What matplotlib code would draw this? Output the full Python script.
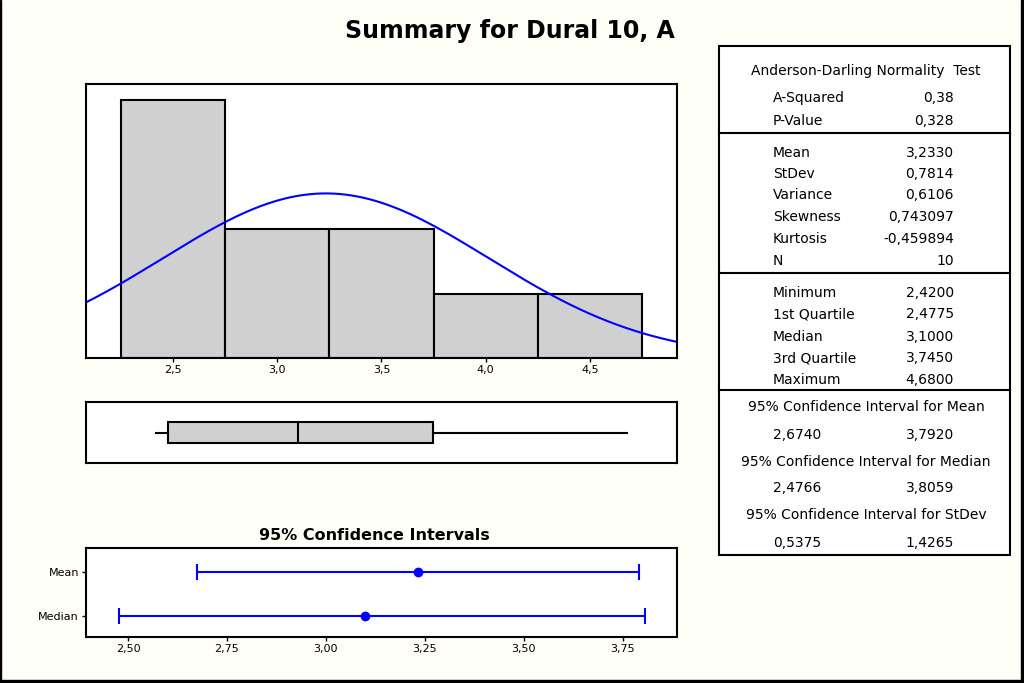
import numpy as np
import matplotlib
matplotlib.use("Agg")
import matplotlib.pyplot as plt
from matplotlib.patches import Rectangle
from matplotlib.lines import Line2D

# ---- data ----
title = "Summary for Dural 10, A"
bin_edges = [2.25, 2.75, 3.25, 3.75, 4.25, 4.75]
counts = [4, 2, 2, 1, 1]
hist_ticks = [2.5, 3.0, 3.5, 4.0, 4.5]

mean = 3.2330
stdev = 0.7814
n_obs = 10
minimum = 2.42
q1 = 2.4775
median = 3.10
q3 = 3.745
maximum = 4.68

ci_labels = ["Mean", "Median"]
ci_centers = [3.2330, 3.1000]
ci_low = [2.6740, 2.4766]
ci_high = [3.7920, 3.8059]
ci_ticks = [2.50, 2.75, 3.00, 3.25, 3.50, 3.75]

table_sections = [
    ("Anderson-Darling Normality  Test", [("A-Squared", "0,38"), ("P-Value", "0,328")]),
    (None, [("Mean", "3,2330"), ("StDev", "0,7814"), ("Variance", "0,6106"),
            ("Skewness", "0,743097"), ("Kurtosis", "-0,459894"), ("N", "10")]),
    (None, [("Minimum", "2,4200"), ("1st Quartile", "2,4775"), ("Median", "3,1000"),
            ("3rd Quartile", "3,7450"), ("Maximum", "4,6800")]),
]
ci_table = [
    ("95% Confidence Interval for Mean", "2,6740", "3,7920"),
    ("95% Confidence Interval for Median", "2,4766", "3,8059"),
    ("95% Confidence Interval for StDev", "0,5375", "1,4265"),
]

BG = "#FFFFF8"
GRAY = "#D0D0D0"
BLUE = "#0000FF"
W, H = 1024, 683

def fx(px):
    return px / W

def fy(py):
    return 1 - py / H

def comma(v, nd):
    return f"{v:.{nd}f}".replace(".", ",")

fig = plt.figure(figsize=(10.24, 6.83), dpi=100, facecolor=BG)

# outer frame lines (left thin, right & bottom thick)
fig.add_artist(Rectangle((0, 0), fx(1.2), 1, color="black", transform=fig.transFigure))
fig.add_artist(Rectangle((fx(1021), 0), fx(3), 1, color="black", transform=fig.transFigure))
fig.add_artist(Rectangle((0, 0), 1, 3 / H, color="black", transform=fig.transFigure))

fig.text(fx(510), fy(31), title, ha="center", va="center", fontsize=17, fontweight="bold")

xlim_hist = (2.082, 4.918)

def style_ax(ax):
    ax.set_facecolor("white")
    for s in ax.spines.values():
        s.set_linewidth(1.5)
        s.set_color("black")

# ---- histogram ----
axh = fig.add_axes([fx(86), fy(358), fx(591), (358 - 84) / H])
style_ax(axh)
widths = np.diff(bin_edges)
axh.bar(bin_edges[:-1], counts, width=widths, align="edge", color=GRAY,
        edgecolor="black", linewidth=1.5)
xs = np.linspace(xlim_hist[0], xlim_hist[1], 400)
binw = widths[0]
pdf = n_obs * binw * np.exp(-0.5 * ((xs - mean) / stdev) ** 2) / (stdev * np.sqrt(2 * np.pi))
axh.plot(xs, pdf, color=BLUE, lw=1.5)
axh.set_xlim(*xlim_hist)
axh.set_ylim(0, 4.25)
axh.set_yticks([])
axh.set_xticks(hist_ticks)
axh.set_xticklabels([comma(t, 1) for t in hist_ticks])
axh.tick_params(axis="x", length=3, width=1, labelsize=8, pad=2)

# ---- boxplot ----
axb = fig.add_axes([fx(86), fy(463), fx(591), (463 - 402) / H])
style_ax(axb)
stats = [dict(med=median, q1=q1, q3=q3, whislo=minimum, whishi=maximum, fliers=[])]
axb.bxp(stats, positions=[0.5], widths=0.34, orientation="horizontal", showcaps=False,
        patch_artist=True, showfliers=False,
        boxprops=dict(facecolor=GRAY, edgecolor="black", linewidth=1.5),
        medianprops=dict(color="black", linewidth=1.5),
        whiskerprops=dict(color="black", linewidth=1.5))
axb.set_xlim(*xlim_hist)
axb.set_ylim(0, 1)
axb.set_xticks([])
axb.set_yticks([])

# ---- confidence intervals ----
axc = fig.add_axes([fx(86), fy(637), fx(591), (637 - 548) / H])
style_ax(axc)
ypos = [1, 0]
for y, c, lo, hi in zip(ypos, ci_centers, ci_low, ci_high):
    axc.errorbar([c], [y], xerr=[[c - lo], [hi - c]], fmt="o", color=BLUE,
                 ms=6, lw=1.5, capsize=6, capthick=1.5)
axc.set_xlim(2.394, 3.8876)
axc.set_ylim(-0.48, 1.545)
axc.set_yticks(ypos)
axc.set_yticklabels(ci_labels)
axc.set_xticks(ci_ticks)
axc.set_xticklabels([comma(t, 2) for t in ci_ticks])
axc.tick_params(axis="both", length=3, width=1, labelsize=8, pad=2)
fig.text(fx(374), fy(535), "95% Confidence Intervals", ha="center", va="center",
         fontsize=11.5, fontweight="bold")

# ---- stats table ----
tx0, tx1, ty0, ty1 = 719, 1010, 46, 555
fig.add_artist(Rectangle((fx(tx0), fy(ty1)), fx(tx1 - tx0), (ty1 - ty0) / H,
                         facecolor="white", edgecolor="black", linewidth=1.5,
                         transform=fig.transFigure))
for sep in [133, 273, 390]:
    fig.add_artist(Line2D([fx(tx0), fx(tx1)], [fy(sep), fy(sep)], color="black",
                          lw=1.5, transform=fig.transFigure))

fs = 10
lab_x = 773
val_x = 954
mid_x = 866
row_y = [[98, 121], [153, 174, 195, 217, 239, 261], [293, 314, 337, 358, 380]]
fig.text(fx(mid_x), fy(71), table_sections[0][0], ha="center", va="center", fontsize=fs)
for (hdr, rows), ys in zip(table_sections, row_y):
    for (lab, val), y in zip(rows, ys):
        fig.text(fx(lab_x), fy(y), lab, ha="left", va="center", fontsize=fs)
        fig.text(fx(val_x), fy(y), val, ha="right", va="center", fontsize=fs)

ci_y = [(407, 435), (462, 488), (515, 543)]
for (hdr, lo, hi), (yh, yv) in zip(ci_table, ci_y):
    fig.text(fx(mid_x), fy(yh), hdr, ha="center", va="center", fontsize=fs)
    fig.text(fx(lab_x), fy(yv), lo, ha="left", va="center", fontsize=fs)
    fig.text(fx(val_x), fy(yv), hi, ha="right", va="center", fontsize=fs)

fig.savefig("out.png", dpi=100, facecolor=BG)
